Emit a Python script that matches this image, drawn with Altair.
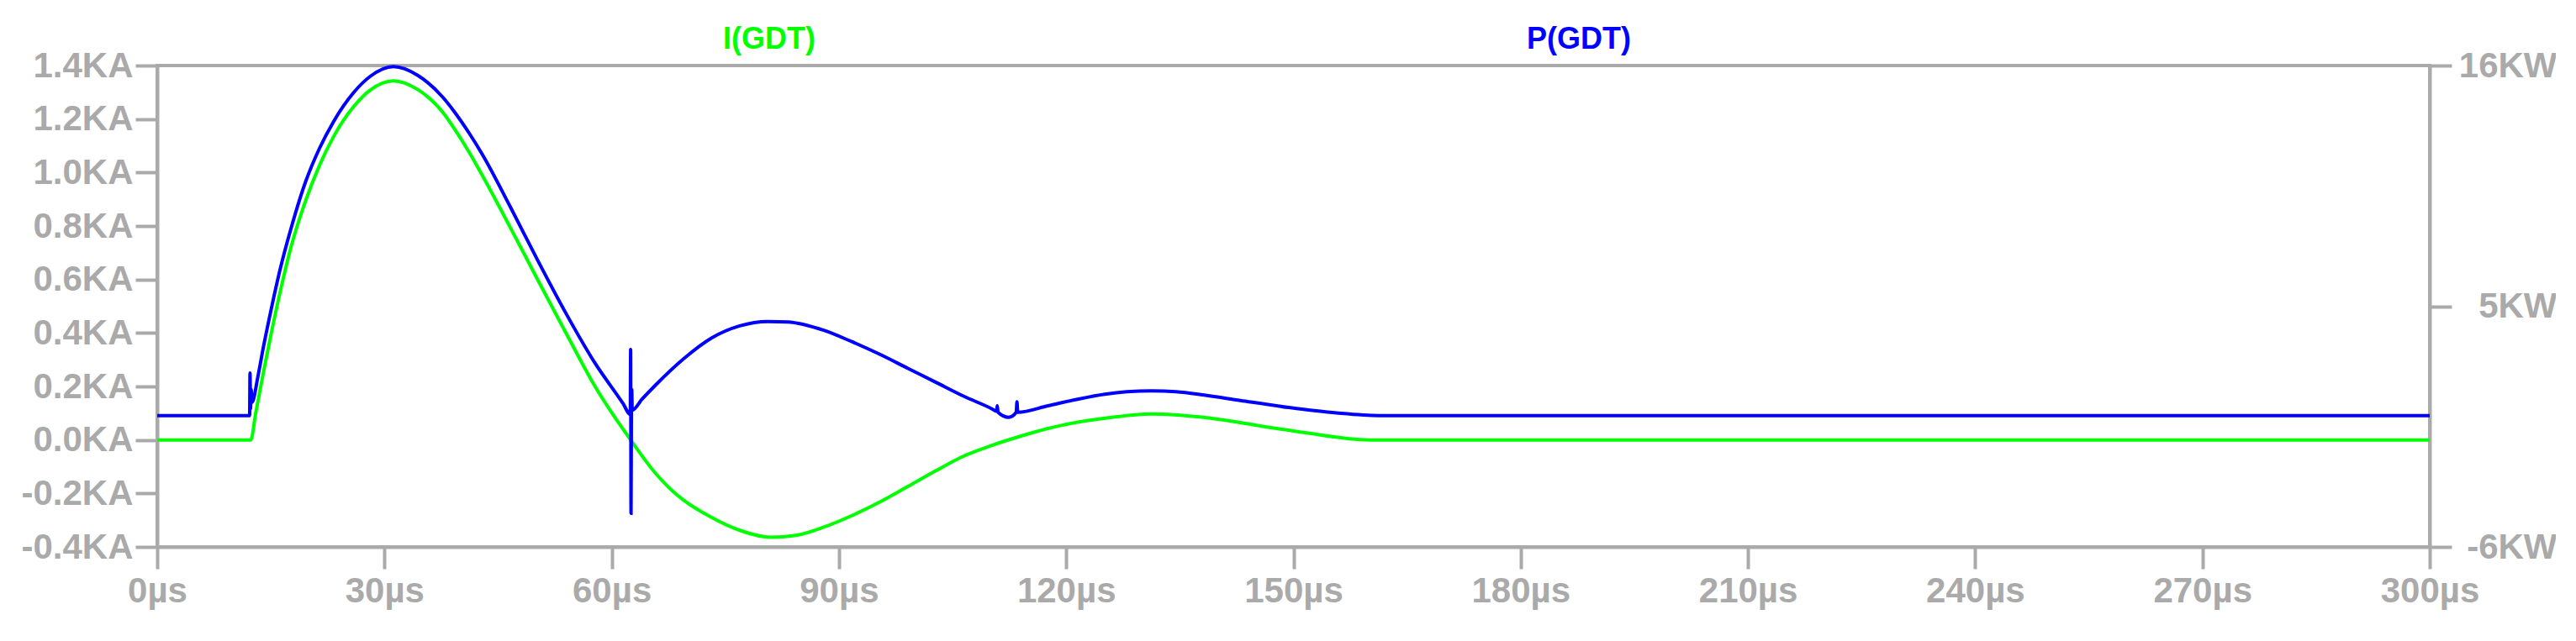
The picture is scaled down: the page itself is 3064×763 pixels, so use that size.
import altair as alt
import pandas as pd

# ---- data ----
# I(GDT) current, KA
t_i = [0, 12.35, 13.0, 14.0, 15.1, 16.2, 17.7, 19.6, 21.4, 23.3, 25.9, 28.1, 31.2,
       34.4, 37.7, 39.2, 41.2, 42.9, 46.6, 50.3, 54.0, 57.7, 62.5, 65.8, 68.0, 69.5,
       73.2, 76.9, 81.0, 84.3, 88.0, 91.7, 95.4, 99.1, 102.8, 106.5, 110.2, 113.5,
       117.6, 119.6, 123.5, 125.6, 131.3, 137.9, 145.1, 151.5, 160.0, 300]
i_ka = [0, 0, 0.10, 0.25, 0.405, 0.55, 0.725, 0.895, 1.025, 1.135, 1.245, 1.308, 1.343,
        1.31, 1.225, 1.165, 1.075, 0.99, 0.795, 0.595, 0.398, 0.205, 0.0, -0.125, -0.19, -0.225,
        -0.29, -0.338, -0.364, -0.357, -0.326, -0.283, -0.232, -0.174, -0.115, -0.06, -0.02, 0.01,
        0.043, 0.056, 0.075, 0.083, 0.097, 0.085, 0.055, 0.027, 0.0, 0]

# P(GDT) power, KW
t_p = [0, 12.2, 12.25, 12.32, 12.4, 12.5, 13.3, 14.0, 15.1, 16.2, 17.7, 19.6, 21.4, 23.3,
       25.9, 28.1, 31.2, 34.4, 37.7, 39.2, 41.2, 42.9, 46.6, 50.3, 54.0, 57.7, 61.5, 62.45,
       62.5, 62.55, 62.6, 62.65, 62.7, 64.0, 65.8, 69.5, 73.2, 76.9, 80.6, 83.2, 88.0, 91.7, 95.4,
       99.1, 102.8, 106.5, 110.2, 110.8, 110.9, 111.0, 112.4, 113.4, 113.5, 113.6, 117.6,
       121.5, 125.1, 128.0, 131.3, 134.5, 138.0, 143.0, 149.4, 155.7, 161.3, 300]
p_kw = [0, 0, 1.95, 0.3, 1.2, 0.6, 1.8, 3.1, 4.95, 6.65, 8.6, 10.7, 12.2, 13.45,
        14.75, 15.5, 15.95, 15.55, 14.55, 13.9, 12.9, 11.95, 9.55, 7.05, 4.65, 2.45, 0.55, 0.05,
        3.02, -4.46, 0.15, 1.19, 0.25, 0.75, 1.4, 2.6, 3.55, 4.1, 4.3, 4.28, 3.9, 3.38, 2.8,
        2.16, 1.52, 0.88, 0.31, 0.2, 0.45, 0.15, -0.08, 0.15, 0.63, 0.15, 0.45,
        0.75, 0.98, 1.09, 1.13, 1.09, 0.95, 0.69, 0.37, 0.12, 0, 0]

x_ticks = [0, 30, 60, 90, 120, 150, 180, 210, 240, 270, 300]
i_ticks = [-0.4, -0.2, 0.0, 0.2, 0.4, 0.6, 0.8, 1.0, 1.2, 1.4]
p_ticks = [-6, 5, 16]
trace_names = ["I(GDT)", "P(GDT)"]

GRAY = "#AAAAAA"
FONT = "Liberation Sans"
GREEN = "#00FF00"
BLUE = "#0000FF"

df_i = pd.DataFrame({"t": t_i, "v": i_ka})
df_p = pd.DataFrame({"t": t_p, "v": p_kw})

x_scale = alt.Scale(domain=[0, 300], nice=False, zero=False)
x_axis = alt.Axis(values=x_ticks, labelExpr="datum.value + 'µs'", title=None,
                  grid=False, labelPadding=6, labelFlush=False, labelOverlap=False)

green = alt.Chart(df_i).mark_line(color=GREEN, strokeWidth=4, interpolate="monotone").encode(
    x=alt.X("t:Q", scale=x_scale, axis=x_axis),
    y=alt.Y("v:Q", scale=alt.Scale(domain=[-0.4, 1.4], nice=False, zero=False),
            axis=alt.Axis(orient="left", values=i_ticks, title=None, grid=False,
                          labelPadding=3, labelOverlap=False, labelFlush=False,
                          labelExpr="(datum.value < 0 ? '-' : '') + format(abs(datum.value), '.1f') + 'KA'")),
)

blue = alt.Chart(df_p).mark_line(color=BLUE, strokeWidth=4, interpolate="monotone").encode(
    x=alt.X("t:Q", scale=x_scale, axis=x_axis),
    y=alt.Y("v:Q", scale=alt.Scale(domain=[-6, 16], nice=False, zero=False),
            axis=alt.Axis(orient="right", values=p_ticks, title=None, grid=False,
                          labelAlign="right", labelPadding=125, labelOverlap=False, labelFlush=False,
                          labelExpr="(datum.value < 0 ? '-' : '') + format(abs(datum.value), 'd') + 'KW'")),
)

lab_i = alt.Chart(pd.DataFrame({"s": [trace_names[0]]})).mark_text(
    color=GREEN, font=FONT, fontSize=36, fontWeight="bold", align="center", baseline="alphabetic"
).encode(text="s:N", x=alt.value(728), y=alt.value(-20))

lab_p = alt.Chart(pd.DataFrame({"s": [trace_names[1]]})).mark_text(
    color=BLUE, font=FONT, fontSize=36, fontWeight="bold", align="center", baseline="alphabetic"
).encode(text="s:N", x=alt.value(1691), y=alt.value(-20))

chart = alt.layer(green, blue, lab_i, lab_p).resolve_scale(y="independent").properties(
    width=2703, height=573,
    padding={"left": 179, "top": 70, "right": 150, "bottom": 90},
    autosize=alt.AutoSizeParams(type="none"),
    background="white",
).configure_view(
    stroke=GRAY, strokeWidth=4
).configure_axis(
    domainColor=GRAY, domainWidth=4, tickColor=GRAY, tickWidth=4, tickSize=26,
    labelColor=GRAY, labelFont=FONT, labelFontSize=42, labelFontWeight="bold",
)

chart.save("out.html", embed_options={"renderer": "svg", "actions": False})
